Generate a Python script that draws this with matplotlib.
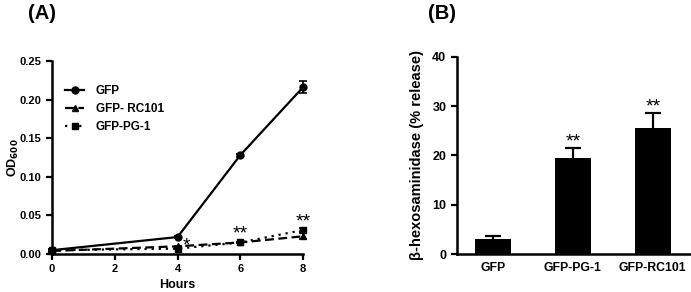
import matplotlib
matplotlib.use("Agg")
import matplotlib.pyplot as plt
from matplotlib.lines import Line2D
import numpy as np

plt.rcParams['font.family'] = ['Liberation Sans', 'DejaVu Sans']
plt.rcParams['font.weight'] = 'bold'

# Panel A data
hours = [0, 4, 6, 8]
gfp = [0.005, 0.022, 0.128, 0.216]
gfp_err = [0.001, 0.001, 0.002, 0.008]
rc101 = [0.004, 0.010, 0.015, 0.023]
rc101_err = [0.001, 0.001, 0.001, 0.004]
pg1 = [0.005, 0.007, 0.015, 0.031]
pg1_err = [0.001, 0.001, 0.001, 0.003]
a_xticks = [0, 2, 4, 6, 8]
a_yticks = [0.00, 0.05, 0.10, 0.15, 0.20, 0.25]
a_labels = ['GFP', 'GFP- RC101', 'GFP-PG-1']
a_stars = [("*", 4.3, 0.010), ("**", 6, 0.026), ("**", 8, 0.041)]

# Panel B data
groups = ["GFP", "GFP-PG-1", "GFP-RC101"]
release = [3.1, 19.4, 25.5]
release_err = [0.5, 2.2, 3.1]
b_yticks = [0, 10, 20, 30, 40]
b_stars = ["", "**", "**"]

fig = plt.figure(figsize=(6.91, 2.92), dpi=100)

axA = fig.add_axes([0.0753, 0.130, 0.3632, 0.661])
lw = 1.6
styles = ['-', (0, (4, 2)), (0, (1, 2.2))]
markers = ['o', '^', 's']
series = [(gfp, gfp_err), (rc101, rc101_err), (pg1, pg1_err)]
handles = []
for (vals, errs), ls, mk, lab in zip(series, styles, markers, a_labels):
    axA.errorbar(hours, vals, yerr=errs, color='black', lw=lw, marker=mk, ms=5,
                 capsize=3, capthick=1.2, elinewidth=1.2, linestyle=ls, clip_on=False)
    handles.append(Line2D([], [], color='black', lw=lw, marker=mk, ms=5, linestyle=ls, label=lab))
for s, x, y in a_stars:
    axA.text(x, y, s, ha='center', va='center', fontsize=14, fontweight='normal')
axA.set_xlim(0, 8)
axA.set_ylim(0, 0.25)
axA.set_xticks(a_xticks)
axA.set_yticks(a_yticks)
axA.set_yticklabels([f"{v:.2f}" for v in a_yticks])
axA.set_xlabel("Hours", fontsize=9, fontweight='bold', labelpad=3)
axA.set_ylabel("OD$_{\\mathbf{600}}$", fontsize=9, fontweight='bold')
axA.yaxis.set_label_coords(-0.125, 0.5)
axA.tick_params(labelsize=8, width=1.6, length=4, direction='out')
for sp in ['top', 'right']:
    axA.spines[sp].set_visible(False)
for sp in ['left', 'bottom']:
    axA.spines[sp].set_linewidth(1.8)
leg = axA.legend(handles=handles, loc='upper left', bbox_to_anchor=(0.01, 0.93), frameon=False,
                 fontsize=8.5, handlelength=1.6, handletextpad=1.0, labelspacing=0.5)
for t in leg.get_texts():
    t.set_fontweight('bold')

axB = fig.add_axes([0.661, 0.130, 0.337, 0.675])
xb = np.arange(len(groups))
axB.bar(xb, release, width=0.45, color='black', yerr=release_err,
        error_kw=dict(ecolor='black', capsize=6, capthick=1.6, elinewidth=1.6))
for i, s in enumerate(b_stars):
    if s:
        axB.text(xb[i], release[i] + release_err[i] + 1.2, s, ha='center', va='center',
                 fontsize=14, fontweight='normal')
axB.set_xlim(-0.45, 2.46)
axB.set_ylim(0, 40)
axB.set_yticks(b_yticks)
axB.set_xticks(xb)
axB.set_xticklabels(groups)
axB.set_ylabel("β-hexosaminidase (% release)", fontsize=10.5, fontweight='bold', labelpad=6)
axB.tick_params(axis='y', labelsize=9, width=1.6, length=4, direction='out')
axB.tick_params(axis='x', labelsize=8.8, length=0, pad=6)
for sp in ['top', 'right']:
    axB.spines[sp].set_visible(False)
for sp in ['left', 'bottom']:
    axB.spines[sp].set_linewidth(1.8)

fig.text(0.040, 0.955, "(A)", fontsize=14.5, fontweight='bold', ha='left', va='center')
fig.text(0.619, 0.955, "(B)", fontsize=14.5, fontweight='bold', ha='left', va='center')

fig.savefig("out.png", dpi=100)
